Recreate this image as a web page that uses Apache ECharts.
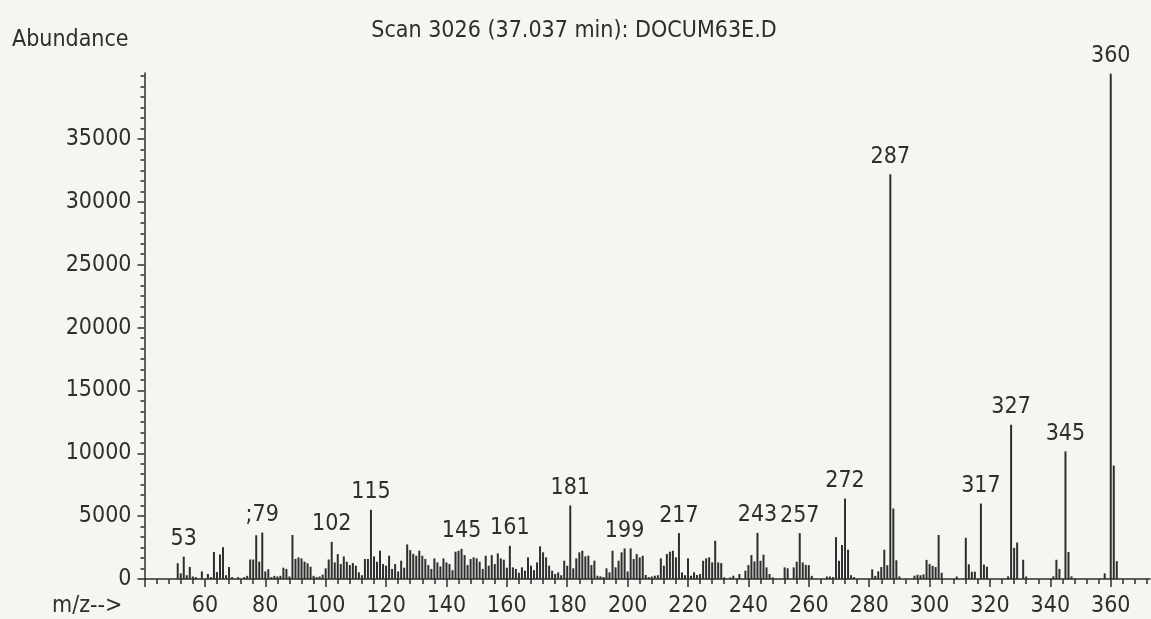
<!DOCTYPE html>
<html>
<head>
<meta charset="utf-8">
<title>Scan 3026 (37.037 min): DOCUM63E.D</title>
<script src="https://cdn.jsdelivr.net/npm/echarts@6/dist/echarts.min.js"></script>
<style>
  html, body { margin: 0; padding: 0; background: #f4f6f1; }
  #chart { width: 1151px; height: 619px; }
</style>
</head>
<body>
<div id="chart"></div>
<script>
// Mass spectrum, scan 3026: m/z and abundance of every line
const mz = [
  51, 52, 53, 54, 55, 56, 57, 59, 61, 62, 63, 64, 65, 66, 67, 68, 69, 71, 73, 74,
  75, 76, 77, 78, 79, 80, 81, 82, 83, 84, 85, 86, 87, 88, 89, 90, 91, 92, 93, 94,
  95, 96, 97, 98, 99, 100, 101, 102, 103, 104, 105, 106, 107, 108, 109, 110, 111, 112, 113, 114,
  115, 116, 117, 118, 119, 120, 121, 122, 123, 124, 125, 126, 127, 128, 129, 130, 131, 132, 133, 134,
  135, 136, 137, 138, 139, 140, 141, 142, 143, 144, 145, 146, 147, 148, 149, 150, 151, 152, 153, 154,
  155, 156, 157, 158, 159, 160, 161, 162, 163, 164, 165, 166, 167, 168, 169, 170, 171, 172, 173, 174,
  175, 176, 177, 178, 179, 180, 181, 182, 183, 184, 185, 186, 187, 188, 189, 190, 191, 192, 193, 194,
  195, 196, 197, 198, 199, 200, 201, 202, 203, 204, 205, 206, 207, 208, 209, 210, 211, 212, 213, 214,
  215, 216, 217, 218, 219, 220, 221, 222, 223, 224, 225, 226, 227, 228, 229, 230, 231, 232, 234, 235,
  237, 239, 240, 241, 242, 243, 244, 245, 246, 247, 248, 252, 253, 255, 256, 257, 258, 259, 260, 261,
  266, 267, 268, 269, 270, 271, 272, 273, 274, 275, 281, 282, 283, 284, 285, 286, 287, 288, 289, 290,
  295, 296, 297, 298, 299, 300, 301, 302, 303, 304, 309, 312, 313, 314, 315, 317, 318, 319, 326, 327,
  328, 329, 331, 332, 341, 342, 343, 345, 346, 347, 358, 360, 361, 362
];
const abundance = [
  1250, 450, 1780, 300, 960, 200, 150, 600, 400, 150, 2150, 550, 1950, 2530, 300, 950, 150, 150, 150, 250,
  1550, 1550, 3480, 1380, 3690, 600, 780, 150, 250, 200, 250, 900, 800, 200, 3500, 1600, 1720, 1640, 1380, 1250,
  980, 250, 150, 200, 350, 850, 1550, 2950, 1320, 1980, 1190, 1800, 1375, 1110, 1270, 1060, 530, 300, 1590, 1590,
  5500, 1800, 1375, 2250, 1190, 1060, 1850, 800, 1190, 600, 1455, 900, 2750, 2300, 2000, 1850, 2250, 1850, 1590, 1110,
  800, 1640, 1320, 1000, 1640, 1320, 1190, 700, 2170, 2250, 2400, 1900, 1110, 1590, 1720, 1640, 1375, 800, 1850, 1060,
  1900, 1190, 2040, 1640, 1535, 900, 2640, 925, 800, 500, 925, 660, 1720, 1060, 700, 1320, 2600, 2120, 1720, 1060,
  660, 400, 530, 300, 1455, 1060, 5850, 850, 1640, 2120, 2250, 1800, 1850, 1110, 1455, 260, 210, 150, 850, 530,
  2250, 930, 1455, 2120, 2430, 600, 2430, 1590, 1985, 1720, 1850, 320, 150, 200, 260, 300, 1640, 1060, 1985, 2170,
  2250, 1720, 3650, 530, 300, 1640, 260, 530, 320, 400, 1455, 1640, 1720, 1320, 3040, 1320, 1270, 130, 130, 260,
  400, 660, 1110, 1900, 1400, 3670, 1455, 1930, 925, 400, 130, 925, 850, 925, 1375, 3650, 1320, 1130, 1100, 250,
  200, 200, 150, 3330, 1450, 2700, 6400, 2330, 300, 150, 770, 250, 610, 950, 2330, 1100, 32200, 5600, 1490, 200,
  260, 340, 300, 370, 1520, 1200, 1050, 950, 3500, 500, 200, 3280, 1170, 580, 580, 6000, 1150, 980, 210, 12270,
  2480, 2900, 1530, 200, 210, 1530, 800, 10150, 2150, 210, 450, 40200, 9020, 1420
];

// Lines that carry an m/z label, and the text printed above each
const labeledMz = [53, 79, 102, 115, 145, 161, 181, 199, 217, 243, 257, 272, 287, 317, 327, 345, 360];
const labelText = ['53', ';79', '102', '115', '145', '161', '181', '199', '217', '243', '257', '272', '287', '317', '327', '345', '360'];

// Axis ticks and labels
const xTickLabels = [60, 80, 100, 120, 140, 160, 180, 200, 220, 240, 260, 280, 300, 320, 340, 360];
const yTickLabels = [0, 5000, 10000, 15000, 20000, 25000, 30000, 35000];

const titleText = 'Scan 3026 (37.037 min): DOCUM63E.D';
const yAxisName = 'Abundance';
const xAxisName = 'm/z-->';

const X_MIN = 40, X_MAX = 373, X_MINOR = 4;
const Y_MAX = 40250, Y_MINOR = 5000 / 6;

const ink = '#2e2e2e';
const font = "'DejaVu Sans Condensed', 'Liberation Sans', sans-serif";
const fontSize = 23;

const xMajorTicks = [X_MIN].concat(xTickLabels);
const xMinorTicks = [];
for (let v = X_MIN; v <= X_MAX; v += X_MINOR) xMinorTicks.push(v);
const yMinorTicks = [];
for (let i = 0; i * Y_MINOR <= Y_MAX; i++) yMinorTicks.push(i * Y_MINOR);

const barData = mz.map(function (m, i) {
  const k = labeledMz.indexOf(m);
  const item = { value: [m, abundance[i]] };
  if (k >= 0) {
    item.label = { show: true, formatter: labelText[k] };
  }
  return item;
});

const tickLine = { color: ink, width: 1.5 };
const labelStyle = { color: ink, fontFamily: font, fontSize: fontSize };
const plain = function (v) { return String(v); };

const chart = echarts.init(document.getElementById('chart'), null, { renderer: 'canvas' });
chart.setOption({
  backgroundColor: '#f4f6f1',
  animation: false,
  grid: { left: 144.5, right: 1, top: 73, bottom: 40, containLabel: false },
  xAxis: [
    {
      type: 'value', min: X_MIN, max: X_MAX, position: 'bottom',
      axisLine: { show: true, onZero: false, lineStyle: tickLine },
      axisTick: { show: true, customValues: xMajorTicks, length: 8, lineStyle: tickLine },
      axisLabel: Object.assign({ customValues: xTickLabels, margin: 16, formatter: plain }, labelStyle),
      splitLine: { show: false }
    },
    {
      type: 'value', min: X_MIN, max: X_MAX, position: 'bottom',
      axisLine: { show: false, onZero: false },
      axisTick: { show: true, customValues: xMinorTicks, length: 5, lineStyle: tickLine },
      axisLabel: { show: false },
      splitLine: { show: false }
    }
  ],
  yAxis: [
    {
      type: 'value', min: 0, max: Y_MAX, position: 'left',
      axisLine: { show: true, onZero: false, lineStyle: tickLine },
      axisTick: { show: true, customValues: yTickLabels, length: 7, lineStyle: tickLine },
      axisLabel: Object.assign({ customValues: yTickLabels, margin: 13, formatter: plain }, labelStyle),
      splitLine: { show: false }
    },
    {
      type: 'value', min: 0, max: Y_MAX, position: 'left',
      axisLine: { show: false, onZero: false },
      axisTick: { show: true, customValues: yMinorTicks, length: 4, lineStyle: tickLine },
      axisLabel: { show: false },
      splitLine: { show: false }
    }
  ],
  series: [
    {
      type: 'bar',
      xAxisIndex: 0,
      yAxisIndex: 0,
      barWidth: 2,
      clip: false,
      itemStyle: { color: ink },
      label: Object.assign({ show: false, position: 'top', distance: 6 }, labelStyle),
      data: barData
    }
  ],
  graphic: [
    {
      type: 'text', x: 574, y: 31,
      style: { text: titleText, fill: ink, font: fontSize + 'px ' + font, align: 'center', verticalAlign: 'middle' }
    },
    {
      type: 'text', x: 12, y: 40,
      style: { text: yAxisName, fill: ink, font: fontSize + 'px ' + font, align: 'left', verticalAlign: 'middle' }
    },
    {
      type: 'text', x: 52, y: 606,
      style: { text: xAxisName, fill: ink, font: fontSize + 'px ' + font, align: 'left', verticalAlign: 'middle' }
    }
  ]
});
</script>
</body>
</html>
